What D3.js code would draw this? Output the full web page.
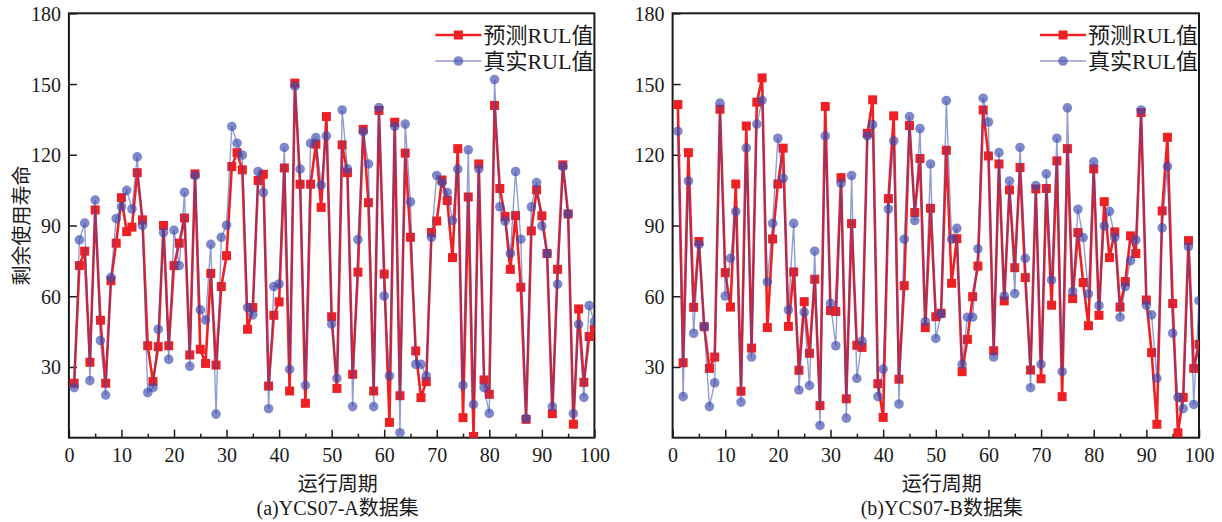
<!DOCTYPE html>
<html><head><meta charset="utf-8">
<script src="https://cdn.jsdelivr.net/npm/d3@7"></script>
<style>
body{margin:0;background:#fff;}
svg text{font-family:"Liberation Serif","Noto Sans CJK SC",serif;fill:#1a1a1a;}
</style></head>
<body><svg id="c" width="1222" height="522"></svg>
<script>
const cycles = d3.range(1, 101);
const xTicks = [0,10,20,30,40,50,60,70,80,90,100];
const yTicks = [30,60,90,120,150,180];
const seriesNames = ["预测RUL值","真实RUL值"];
const yLabel = "剩余使用寿命";
const xLabel = "运行周期";
const captions = ["(a)YCS07-A数据集","(b)YCS07-B数据集"];

const predA = [23.1,73.0,79.1,32.0,96.6,49.8,23.1,66.6,82.5,101.8,87.4,89.3,112.4,92.4,39.0,23.8,38.6,90.0,39.0,73.0,82.5,93.2,35.1,111.9,37.5,31.5,69.7,30.8,64.1,77.2,115.0,120.9,113.6,46.0,55.2,109.1,111.7,21.9,51.9,57.6,114.4,19.8,150.4,107.5,14.6,107.5,124.5,97.7,136.2,51.3,20.9,124.2,112.4,26.9,70.2,130.8,99.7,19.8,138.8,69.4,6.5,133.8,17.8,120.7,85.0,36.8,17.0,23.8,87.0,91.9,109.3,100.6,76.4,122.6,8.5,102.1,0.5,116.1,24.5,18.4,140.9,105.7,93.8,71.4,94.2,63.8,7.8,87.7,105.1,94.1,78.1,10.2,71.4,115.7,94.9,5.7,54.6,23.5,42.9,46.0];
const trueA = [21.2,83.9,91.0,24.2,100.8,41.2,18.1,68.0,92.9,98.0,104.9,97.0,119.1,90.0,19.1,21.2,46.0,87.0,33.2,88.0,73.0,104.1,30.3,111.2,54.2,49.9,82.0,10.0,85.0,90.1,132.0,124.9,119.9,55.2,52.1,112.9,104.0,12.3,64.1,65.2,123.1,29.0,149.1,113.9,22.2,124.9,127.3,107.1,128.0,48.2,25.2,139.0,114.0,13.2,84.0,129.8,116.1,13.2,140.0,60.1,26.2,132.0,2.1,133.0,100.0,31.1,31.1,26.2,85.0,111.2,108.2,104.0,92.1,113.9,22.2,122.1,14.1,114.0,21.2,10.3,151.9,97.9,91.9,78.1,112.9,84.2,8.1,97.9,108.2,89.8,78.1,13.2,65.1,115.0,94.9,10.2,48.1,17.1,56.0,49.2];
const predB = [141.3,31.8,120.9,55.3,83.2,47.1,29.4,34.2,139.3,70.0,55.4,107.6,19.7,132.2,38.0,142.3,152.6,46.7,84.3,107.6,122.8,47.2,70.3,28.6,57.7,35.8,67.2,13.6,140.5,53.9,53.5,110.3,16.5,90.8,39.2,38.3,129.1,143.3,22.9,8.6,101.4,136.5,24.8,64.5,132.4,95.5,118.4,46.7,97.3,51.3,52.8,121.9,65.5,84.4,28.0,41.7,59.8,72.8,139.0,119.5,36.9,116.1,58.0,105.1,72.1,114.6,67.9,28.7,105.5,25.0,105.7,56.2,117.4,17.4,122.6,59.0,87.0,65.8,47.5,114.0,51.9,100.1,76.4,87.3,55.4,66.2,85.6,78.1,137.9,58.4,36.1,5.7,96.2,127.4,56.9,2.1,17.1,83.6,29.4,39.6];
const trueB = [130.0,17.4,108.9,44.3,82.0,47.1,13.2,23.3,141.9,60.1,76.1,95.9,15.1,122.9,34.2,133.0,143.1,66.1,90.9,127.0,110.0,54.2,90.9,20.2,53.2,22.1,79.1,5.2,128.0,57.0,39.0,107.9,8.3,111.2,25.2,41.0,128.0,132.8,17.4,29.1,97.0,125.9,14.3,84.2,136.2,92.1,131.1,49.2,116.1,42.1,52.5,143.0,84.2,88.8,31.1,51.1,51.1,80.1,144.0,133.9,34.2,120.9,60.1,108.9,61.1,123.1,76.1,21.2,106.9,31.1,111.9,66.9,127.0,28.0,139.9,62.0,96.9,84.9,61.0,117.0,56.0,89.8,96.0,85.0,51.1,64.1,75.1,83.9,139.0,56.2,52.1,25.2,89.0,115.0,44.3,17.1,12.3,81.0,14.1,58.1];

const svg = d3.select("#c");
const RED = "#ee2024", BLUE = "#3a4aad";
const yTop = 13.3, yBottom = 437.7;
const panels = [
  {x0:68.9, x1:594.4, pred:predA, real:trueA, cap:captions[0], ylab:true},
  {x0:672.6, x1:1199, pred:predB, real:trueB, cap:captions[1], ylab:false}
];

panels.forEach((p, k) => {
  const x = d3.scaleLinear().domain([0,100]).range([p.x0, p.x1]);
  const y = d3.scaleLinear().domain([0,180]).range([yBottom, yTop]);
  const g = svg.append("g");
  const clipId = "clip" + k;
  g.append("clipPath").attr("id", clipId).append("rect")
    .attr("x", p.x0).attr("y", yTop).attr("width", p.x1 - p.x0).attr("height", yBottom - yTop);

  const xa = g.append("g").attr("transform", `translate(0,${yBottom})`)
    .call(d3.axisBottom(x).tickValues(xTicks).tickSize(-8).tickPadding(10).tickFormat(d3.format("d")));
  g.append("g").attr("transform", `translate(0,${yBottom})`)
    .call(d3.axisBottom(x).tickValues(d3.range(5,100,10)).tickSize(-4).tickFormat(""))
    .call(s => s.select(".domain").remove())
    .call(s => s.selectAll("line").attr("stroke","#1a1a1a").attr("stroke-width",1.5));
  const ya = g.append("g").attr("transform", `translate(${p.x0},0)`)
    .call(d3.axisLeft(y).tickValues(yTicks).tickSize(-8).tickPadding(8).tickFormat(d3.format("d")));
  [xa, ya].forEach(a => {
    a.select(".domain").remove();
    a.selectAll("text").style("font-size","20px").attr("fill","#1a1a1a");
    a.selectAll("line").attr("stroke","#1a1a1a").attr("stroke-width",1.5);
  });
  ya.selectAll(".tick text").attr("dy","0.35em");

  g.append("rect").attr("x", p.x0).attr("y", yTop).attr("width", p.x1 - p.x0).attr("height", yBottom - yTop)
    .attr("fill","none").attr("stroke","#1a1a1a").attr("stroke-width",2);

  const plot = g.append("g").attr("clip-path", `url(#${clipId})`);
  const line = d3.line().x((d,i) => x(cycles[i])).y(d => y(d));
  plot.append("path").datum(p.pred).attr("d", line).attr("fill","none")
    .attr("stroke", RED).attr("stroke-width", 2.6).attr("stroke-linejoin","round");
  const sq = 9;
  plot.selectAll(".sq").data(p.pred).join("rect")
    .attr("x", (d,i) => x(cycles[i]) - sq/2).attr("y", d => y(d) - sq/2)
    .attr("width", sq).attr("height", sq).attr("fill", RED);
  plot.append("path").datum(p.real).attr("d", line).attr("fill","none")
    .attr("stroke", BLUE).attr("stroke-opacity",0.55).attr("stroke-width", 1.4);
  plot.selectAll(".ci").data(p.real).join("circle")
    .attr("cx", (d,i) => x(cycles[i])).attr("cy", d => y(d)).attr("r", 4.8)
    .attr("fill", BLUE).attr("fill-opacity", 0.65);

  const lx = p.x1 - 159, ly1 = 35, ly2 = 61;
  g.append("line").attr("x1", lx).attr("x2", lx+46).attr("y1", ly1).attr("y2", ly1)
    .attr("stroke", RED).attr("stroke-width", 2.6);
  g.append("rect").attr("x", lx+23-sq/2).attr("y", ly1-sq/2).attr("width", sq).attr("height", sq).attr("fill", RED);
  g.append("line").attr("x1", lx).attr("x2", lx+46).attr("y1", ly2).attr("y2", ly2)
    .attr("stroke", BLUE).attr("stroke-opacity",0.55).attr("stroke-width", 1.4);
  g.append("circle").attr("cx", lx+23).attr("cy", ly2).attr("r", 4.8).attr("fill", BLUE).attr("fill-opacity",0.65);
  g.append("text").attr("x", lx+48).attr("y", ly1).attr("dy","0.35em").style("font-size","22px").text(seriesNames[0]);
  g.append("text").attr("x", lx+48).attr("y", ly2).attr("dy","0.35em").style("font-size","22px").text(seriesNames[1]);

  const cx = (p.x0 + p.x1)/2 + 6;
  g.append("text").attr("x", cx).attr("y", 484).attr("dy","0.35em").attr("text-anchor","middle")
    .style("font-size","20px").text(xLabel);
  g.append("text").attr("x", cx).attr("y", 508).attr("dy","0.35em").attr("text-anchor","middle")
    .style("font-size","20px").text(p.cap);
  if (p.ylab) {
    g.append("text").attr("transform", `translate(22,${(yTop+yBottom)/2}) rotate(-90)`)
      .attr("dy","0.35em").attr("text-anchor","middle").style("font-size","20px").text(yLabel);
  }
});
</script></body></html>
